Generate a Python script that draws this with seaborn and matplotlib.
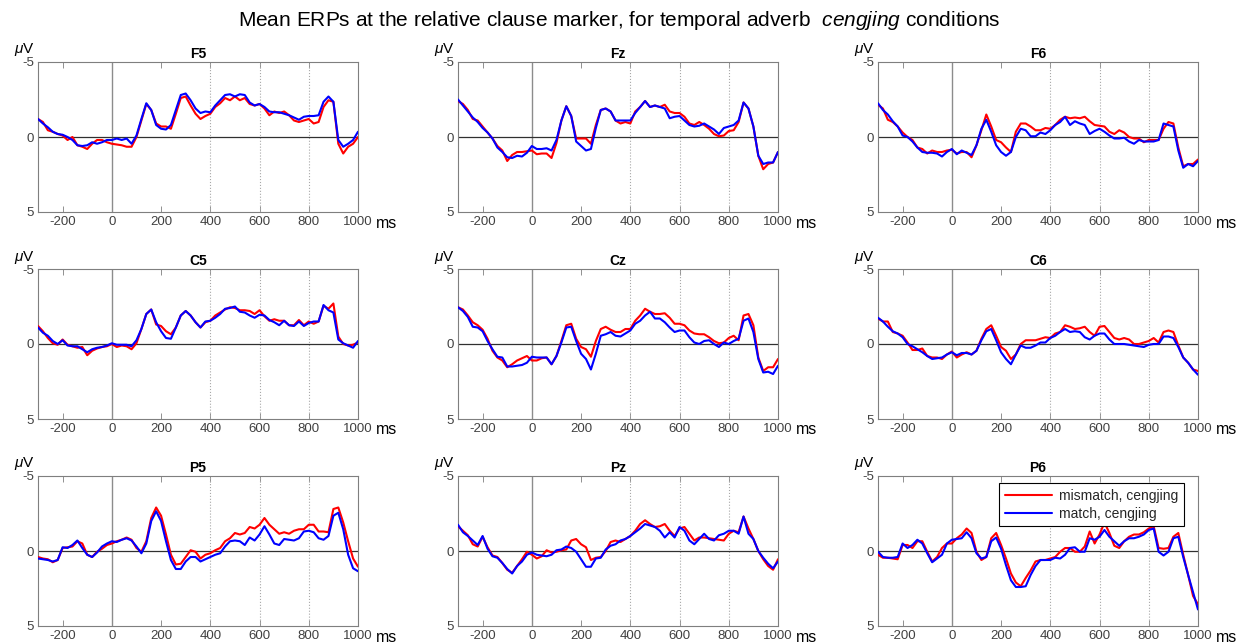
import numpy as np
import pandas as pd
import matplotlib
matplotlib.use("Agg")
import matplotlib.pyplot as plt
import seaborn as sns

# time axis (ms), one sample every 20 ms
times = np.arange(-300, 1001, 20)
channels = ["F5", "Fz", "F6", "C5", "Cz", "C6", "P5", "Pz", "P6"]
conds = ["mismatch, cengjing", "match, cengjing"]
xticks = [-200, 0, 200, 400, 600, 800, 1000]

# amplitudes in microvolts (negative plotted up)
f5_mismatch = [-1.2, -1.0, -0.45, -0.35, -0.2, -0.1, 0.2, 0.0, 0.55, 0.65,
               0.8, 0.45, 0.2, 0.2, 0.35, 0.45, 0.5, 0.55, 0.65, 0.65,
               0.0, -1.1, -2.2, -1.8, -0.9, -0.7, -0.7, -0.55, -1.55, -2.6,
               -2.7, -2.1, -1.55, -1.2, -1.4, -1.55, -2.0, -2.25, -2.6, -2.45,
               -2.7, -2.45, -2.6, -2.2, -2.1, -2.2, -1.9, -1.45, -1.7, -1.6,
               -1.7, -1.45, -1.1, -1.0, -1.1, -1.2, -0.9, -1.0, -2.0, -2.45,
               -2.35, 0.45, 1.1, 0.65, 0.45, 0.0]
f5_match = [-1.2, -0.9, -0.65, -0.35, -0.2, -0.15, 0.0, 0.2, 0.55, 0.6,
            0.55, 0.35, 0.45, 0.35, 0.2, 0.2, 0.1, 0.2, 0.1, 0.45,
            -0.1, -1.2, -2.25, -1.8, -0.8, -0.55, -0.5, -0.8, -1.8, -2.8,
            -2.9, -2.45, -1.9, -1.6, -1.7, -1.65, -2.1, -2.45, -2.8, -2.85,
            -2.7, -2.85, -2.8, -2.3, -2.1, -2.2, -2.0, -1.7, -1.65, -1.65,
            -1.55, -1.45, -1.3, -1.15, -1.35, -1.4, -1.4, -1.45, -2.35, -2.7,
            -2.35, 0.2, 0.65, 0.45, 0.2, -0.35]

fz_mismatch = [-2.4, -2.2, -1.8, -1.2, -1.1, -0.7, -0.3, 0.1, 0.6, 0.9,
               1.6, 1.2, 1.0, 1.0, 0.95, 0.9, 1.15, 1.1, 1.1, 1.4,
               0.4, -1.1, -2.05, -1.4, 0.1, 0.1, 0.1, 0.45, -0.8, -1.8,
               -1.9, -1.7, -1.1, -0.9, -1.0, -0.9, -1.7, -2.0, -2.4, -2.0,
               -2.1, -2.0, -2.15, -1.7, -1.6, -1.6, -1.35, -0.9, -0.8, -1.0,
               -0.8, -0.55, -0.2, -0.05, -0.1, -0.4, -0.45, -1.0, -2.3, -1.9,
               -0.7, 1.25, 2.15, 1.8, 1.7, 1.0]
fz_match = [-2.5, -2.1, -1.7, -1.3, -1.0, -0.6, -0.3, 0.1, 0.7, 1.0,
            1.35, 1.4, 1.25, 1.3, 1.05, 0.6, 0.8, 0.8, 0.75, 0.9,
            0.2, -1.1, -2.05, -1.4, 0.3, 0.6, 0.9, 0.8, -0.6, -1.8,
            -1.9, -1.7, -1.1, -1.1, -1.1, -1.1, -1.6, -2.0, -2.4, -2.0,
            -2.1, -2.0, -1.9, -1.25, -1.35, -1.4, -1.1, -0.8, -0.7, -0.75,
            -0.9, -0.7, -0.5, -0.2, -0.6, -0.7, -0.8, -1.1, -2.3, -1.9,
            -0.7, 1.25, 1.8, 1.7, 1.7, 1.0]

f6_mismatch = [-2.15, -1.9, -1.15, -1.0, -0.7, -0.3, 0.0, 0.2, 0.7, 0.8,
               1.1, 0.9, 1.0, 1.0, 0.9, 0.85, 1.1, 1.0, 1.0, 1.35,
               0.55, -0.45, -1.5, -0.7, 0.2, 0.35, 0.7, 1.0, -0.35, -0.9,
               -0.9, -0.7, -0.45, -0.45, -0.6, -0.55, -0.8, -1.15, -1.35, -1.25,
               -1.3, -1.25, -1.35, -1.05, -0.8, -0.75, -0.7, -0.35, -0.2, -0.45,
               -0.3, 0.0, 0.1, 0.1, 0.35, 0.2, 0.2, 0.2, -0.55, -1.0,
               -0.9, 0.7, 1.95, 1.8, 1.8, 1.5]
f6_match = [-2.25, -1.8, -1.5, -1.05, -0.7, -0.1, 0.0, 0.3, 0.7, 1.0,
            1.05, 1.05, 1.1, 1.3, 1.0, 0.8, 1.15, 0.9, 1.05, 1.2,
            0.55, -0.55, -1.15, -0.35, 0.55, 1.0, 1.25, 1.0, 0.0, -0.55,
            -0.45, -0.05, -0.05, -0.3, -0.2, -0.45, -0.8, -1.0, -1.35, -0.8,
            -1.05, -0.9, -0.8, -0.2, -0.4, -0.55, -0.35, -0.1, 0.1, 0.1,
            0.05, 0.3, 0.45, 0.2, 0.3, 0.3, 0.3, 0.2, -0.9, -0.8,
            -0.7, 0.9, 2.05, 1.8, 1.95, 1.6]

c5_mismatch = [-1.2, -0.85, -0.4, -0.05, 0.05, -0.3, 0.05, 0.15, 0.25, 0.2,
               0.75, 0.45, 0.3, 0.2, 0.15, 0.0, 0.2, 0.1, 0.15, 0.35,
               -0.05, -1.0, -2.0, -2.3, -1.3, -1.2, -0.85, -0.65, -1.1, -1.9,
               -2.2, -1.9, -1.45, -1.1, -1.45, -1.55, -1.9, -2.1, -2.3, -2.45,
               -2.4, -2.25, -2.25, -2.2, -2.0, -2.25, -1.85, -1.55, -1.65, -1.55,
               -1.55, -1.25, -1.25, -1.6, -1.25, -1.5, -1.35, -1.5, -2.55, -2.35,
               -2.7, -0.5, 0.0, 0.1, 0.05, -0.1]
c5_match = [-1.1, -0.75, -0.55, -0.2, 0.0, -0.25, 0.1, 0.15, 0.15, 0.35,
            0.55, 0.35, 0.25, 0.2, 0.1, -0.05, 0.05, 0.05, 0.05, 0.15,
            -0.25, -1.0, -2.0, -2.3, -1.45, -0.85, -0.4, -0.35, -1.1, -1.9,
            -2.2, -1.9, -1.45, -1.1, -1.5, -1.55, -1.75, -2.0, -2.35, -2.4,
            -2.5, -2.15, -2.1, -1.9, -1.75, -1.95, -1.9, -1.6, -1.45, -1.25,
            -1.55, -1.25, -1.2, -1.5, -1.2, -1.4, -1.5, -1.5, -2.6, -2.25,
            -2.1, -0.3, -0.05, 0.1, 0.25, -0.2]

cz_mismatch = [-2.45, -2.3, -1.9, -1.45, -1.25, -0.95, -0.35, 0.45, 0.9, 1.1,
               1.55, 1.35, 1.1, 0.95, 0.8, 1.1, 1.1, 0.95, 0.9, 1.35,
               0.8, -0.2, -1.25, -1.35, -0.35, 0.2, 0.35, 0.85, -0.2, -1.0,
               -1.15, -0.95, -0.8, -0.8, -1.0, -1.0, -1.55, -1.9, -2.35, -2.15,
               -2.0, -2.0, -2.05, -1.75, -1.35, -1.35, -1.25, -0.9, -0.7, -0.65,
               -0.65, -0.45, -0.2, -0.05, -0.1, -0.4, -0.55, -0.25, -1.9, -2.0,
               -1.25, 0.9, 1.8, 1.55, 1.55, 1.0]
cz_match = [-2.45, -2.2, -1.8, -1.15, -1.1, -0.85, -0.2, 0.35, 0.85, 0.9,
            1.5, 1.5, 1.45, 1.4, 1.25, 0.85, 0.9, 0.9, 0.9, 1.35,
            0.8, -0.1, -1.1, -1.15, -0.2, 0.65, 1.0, 1.7, 0.65, -0.55,
            -0.65, -0.8, -0.55, -0.5, -0.7, -0.9, -1.35, -1.55, -1.9, -2.15,
            -1.7, -1.7, -1.45, -1.1, -0.8, -0.9, -0.9, -0.45, -0.1, 0.0,
            -0.2, -0.25, 0.0, 0.2, -0.1, 0.0, -0.2, -0.35, -1.55, -1.7,
            -0.8, 1.0, 1.9, 1.85, 2.0, 1.45]

c6_mismatch = [-1.7, -1.5, -1.5, -0.8, -0.7, -0.55, -0.1, 0.4, 0.4, 0.3,
               0.8, 0.9, 0.9, 1.0, 0.7, 0.5, 0.9, 0.7, 0.55, 0.7,
               0.45, -0.35, -1.0, -1.25, -0.55, 0.2, 0.45, 1.0, 0.7, 0.0,
               -0.25, -0.25, -0.25, -0.35, -0.45, -0.4, -0.7, -0.8, -1.25, -1.15,
               -1.0, -1.05, -1.15, -0.8, -0.55, -1.15, -1.2, -0.8, -0.4, -0.3,
               -0.4, -0.3, 0.0, 0.0, -0.1, -0.2, -0.4, -0.1, -0.8, -0.9,
               -0.8, 0.1, 0.9, 1.25, 1.7, 1.8]
c6_match = [-1.75, -1.5, -1.15, -0.85, -0.7, -0.45, 0.0, 0.15, 0.35, 0.55,
            0.8, 1.0, 0.95, 0.9, 0.7, 0.55, 0.75, 0.6, 0.6, 0.7,
            0.45, -0.25, -0.85, -1.0, -0.25, 0.55, 1.0, 1.35, 0.7, 0.1,
            0.25, 0.25, 0.1, -0.1, -0.1, -0.4, -0.55, -0.8, -1.0, -0.8,
            -0.85, -0.8, -0.45, -0.3, -0.55, -0.7, -0.7, -0.3, 0.0, 0.0,
            0.0, 0.05, 0.1, 0.15, 0.2, 0.05, 0.0, 0.0, -0.5, -0.5,
            -0.4, 0.2, 0.9, 1.25, 1.7, 2.05]

p5_mismatch = [0.4, 0.5, 0.55, 0.75, 0.6, -0.2, -0.25, -0.3, -0.65, -0.5,
               0.25, 0.4, 0.05, -0.15, -0.4, -0.5, -0.65, -0.75, -0.9, -0.75,
               -0.2, 0.05, -0.65, -2.2, -2.9, -2.35, -1.1, 0.25, 0.9, 0.85,
               0.4, -0.05, 0.05, 0.5, 0.25, 0.15, -0.05, -0.2, -0.65, -0.85,
               -1.2, -1.1, -1.2, -1.6, -1.5, -1.75, -2.2, -1.75, -1.45, -1.15,
               -1.25, -1.15, -1.35, -1.45, -1.45, -1.75, -1.75, -1.3, -1.3, -1.25,
               -2.8, -2.9, -1.9, -0.65, 0.5, 1.05]
p5_match = [0.5, 0.55, 0.6, 0.7, 0.6, -0.25, -0.2, -0.4, -0.7, -0.2,
            0.25, 0.4, 0.1, -0.3, -0.5, -0.65, -0.6, -0.75, -0.85, -0.7,
            -0.3, 0.15, -0.5, -2.0, -2.65, -2.0, -0.65, 0.6, 1.2, 1.2,
            0.7, 0.4, 0.4, 0.7, 0.55, 0.4, 0.25, 0.15, -0.3, -0.65,
            -0.7, -0.65, -0.4, -0.9, -0.7, -1.1, -1.65, -1.1, -0.5, -0.4,
            -0.8, -0.75, -0.7, -0.85, -1.3, -1.35, -1.25, -0.85, -0.75, -1.0,
            -2.35, -2.55, -1.45, 0.25, 1.15, 1.35]

pz_mismatch = [-1.65, -1.35, -1.05, -0.45, -0.3, -0.95, -0.25, 0.3, 0.4, 0.8,
               1.25, 1.45, 1.0, 0.55, 0.05, 0.25, 0.5, 0.35, -0.05, 0.1,
               0.05, -0.05, -0.1, -0.7, -0.8, -0.45, -0.25, 0.6, 0.45, 0.4,
               0.0, -0.6, -0.7, -0.6, -0.8, -1.0, -1.35, -1.8, -2.05, -1.8,
               -1.6, -1.65, -1.8, -1.35, -1.0, -1.5, -1.6, -1.15, -0.7, -0.9,
               -0.9, -0.85, -0.8, -0.75, -0.7, -1.15, -1.35, -1.25, -2.3, -1.5,
               -0.8, 0.0, 0.55, 1.0, 1.25, 0.55]
pz_match = [-1.75, -1.25, -1.0, -0.7, -0.4, -1.0, -0.15, 0.35, 0.45, 0.8,
            1.2, 1.5, 1.0, 0.7, 0.25, 0.1, 0.25, 0.3, 0.35, 0.25,
            -0.05, -0.1, -0.3, -0.2, 0.05, 0.55, 1.05, 1.05, 0.5, 0.45,
            -0.1, -0.35, -0.45, -0.7, -0.8, -1.0, -1.25, -1.5, -1.8, -1.7,
            -1.6, -1.35, -0.9, -1.25, -0.9, -1.6, -1.35, -0.7, -0.45, -0.8,
            -1.15, -0.8, -0.7, -1.05, -1.15, -1.35, -1.35, -1.15, -2.3, -1.15,
            -0.8, 0.0, 0.45, 0.85, 1.15, 0.7]

p6_mismatch = [0.25, 0.45, 0.45, 0.5, 0.55, -0.4, -0.4, -0.2, -0.65, -0.65,
               0.05, 0.7, 0.4, -0.2, -0.5, -0.5, -0.85, -1.1, -1.5, -1.2,
               0.05, 0.6, 0.4, -0.85, -1.2, -0.4, 0.5, 1.5, 2.1, 2.35,
               1.8, 1.3, 0.7, 0.6, 0.6, 0.5, 0.4, 0.05, -0.2, -0.2,
               0.05, 0.05, -0.3, -1.3, -0.5, -1.1, -1.9, -1.2, -0.35, -0.2,
               -0.65, -0.95, -1.1, -1.1, -1.25, -1.5, -1.65, -0.2, -0.15, -0.2,
               -0.95, -1.2, 0.25, 1.6, 3.0, 3.55]
p6_match = [0.05, 0.4, 0.45, 0.45, 0.4, -0.5, -0.2, -0.4, -0.75, -0.5,
            0.15, 0.75, 0.5, 0.25, -0.5, -0.75, -0.8, -0.85, -1.25, -0.85,
            0.15, 0.5, 0.4, -0.65, -0.9, -0.15, 0.95, 1.95, 2.4, 2.4,
            2.35, 1.6, 1.0, 0.6, 0.6, 0.6, 0.45, 0.5, 0.25, -0.2,
            -0.25, 0.05, 0.05, -0.85, -0.75, -0.95, -1.4, -0.95, -0.65, -0.35,
            -0.65, -0.85, -0.85, -0.95, -1.1, -1.4, -1.5, 0.05, 0.3, 0.05,
            -0.85, -0.95, 0.4, 1.6, 2.75, 3.9]

erps = {
    "F5": (f5_mismatch, f5_match), "Fz": (fz_mismatch, fz_match), "F6": (f6_mismatch, f6_match),
    "C5": (c5_mismatch, c5_match), "Cz": (cz_mismatch, cz_match), "C6": (c6_mismatch, c6_match),
    "P5": (p5_mismatch, p5_match), "Pz": (pz_mismatch, pz_match), "P6": (p6_mismatch, p6_match),
}

sns.set_theme(style="ticks")
plt.rcParams["font.family"] = ["Liberation Sans", "DejaVu Sans"]
plt.rcParams["axes.unicode_minus"] = False
plt.rcParams["mathtext.fontset"] = "custom"
plt.rcParams["mathtext.rm"] = "Liberation Sans"
plt.rcParams["mathtext.it"] = "Liberation Sans:italic"

fig = plt.figure(figsize=(12.38, 6.43), dpi=100)
W, H = 1238, 643
lefts = [38, 458, 878]
tops = [62, 269, 476]
aw, ah = 320, 150
axis_col = "#7f7f7f"
text_col = "#404040"

for i, ch in enumerate(channels):
    r, c = divmod(i, 3)
    ax = fig.add_axes([lefts[c] / W, 1 - (tops[r] + ah) / H, aw / W, ah / H])

    # reference lines: stimulus onset, dotted grid, baseline
    ax.axvline(0, color="#8c8c8c", lw=1.0, zorder=1)
    for t in [400, 600, 800]:
        ax.axvline(t, color="#a8a8a8", lw=0.8, ls=":", zorder=1)
    ax.axhline(0, color="#303030", lw=0.9, zorder=1)

    mism, mat = erps[ch]
    df = pd.DataFrame({
        "time": np.concatenate([times, times]),
        "amp": np.concatenate([mism, mat]),
        "cond": [conds[0]] * len(times) + [conds[1]] * len(times),
    })
    sns.lineplot(data=df, x="time", y="amp", hue="cond", hue_order=conds,
                 palette=["#ff0000", "#0000ff"], linewidth=1.5, ax=ax,
                 legend=(ch == "P6"), zorder=3)

    ax.set_xlim(-300, 1000)
    ax.set_ylim(5, -5)
    ax.set_xticks(xticks)
    ax.set_yticks([-5, 0, 5])
    ax.set_xlabel("")
    ax.set_ylabel("")
    ax.tick_params(direction="in", top=True, right=True, length=4, width=0.6,
                   color=axis_col, labelcolor=text_col, labelsize=9.5, pad=3)
    for sp in ax.spines.values():
        sp.set_color(axis_col)
        sp.set_linewidth(0.8)
    ax.set_title(ch, fontweight="bold", fontsize=10, pad=3, color="black")

    ax.annotate("ms", xy=(1, 0), xycoords="axes fraction", xytext=(18, -11),
                textcoords="offset pixels", ha="left", va="center",
                fontsize=11.5, color="black")
    ax.annotate(r"$\mu$V", xy=(0, 1), xycoords="axes fraction", xytext=(-14, 12),
                textcoords="offset pixels", ha="center", va="center",
                fontsize=11, color="black")

    if ch == "P6":
        handles, labels = ax.get_legend_handles_labels()
        leg = ax.legend(handles, labels, loc="upper right",
                        bbox_to_anchor=(1 - 14 / aw, 1 - 7 / ah), borderaxespad=0,
                        fontsize=10, frameon=True, fancybox=False, framealpha=1,
                        edgecolor="black", handlelength=3.4, handletextpad=0.5,
                        borderpad=0.4, labelspacing=0.3)
        leg.get_frame().set_linewidth(0.8)

fig.text(0.5, 1 - 20 / H,
         r"Mean ERPs at the relative clause marker, for temporal adverb  $\it{cengjing}$ conditions",
         ha="center", va="center", fontsize=15, color="black")

fig.savefig("out.png", dpi=100)
